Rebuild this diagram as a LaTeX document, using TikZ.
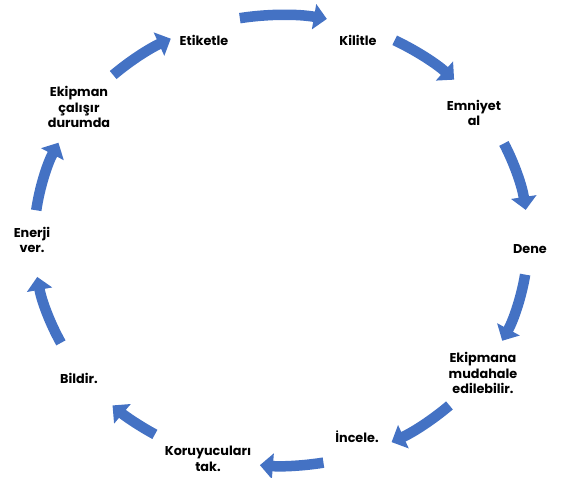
\documentclass[tikz,border=0pt]{standalone}
\usepackage{fontspec}
\setmainfont{Poppins}
\usetikzlibrary{arrows.meta,calc}
\definecolor{arrblue}{HTML}{4472C4}
\tikzset{
  lbl/.style={align=center, font=\fontsize{12.8}{15.5}\selectfont\bfseries, text=black, inner sep=1pt},
  cyc/.style={draw=arrblue, line width=10.5pt, line cap=butt, -{Triangle[width=25pt,length=13pt]}}
}
\newcommand{\cycarrow}[3]{%
  \coordinate (s#3) at ($(ctr)+(#1:247pt and 225.5pt)$);
  \draw[cyc] (s#3) arc[start angle=#1, end angle=#2, x radius=247pt, y radius=225.5pt];}
\begin{document}
\begin{tikzpicture}[x=1pt,y=1pt]
\useasboundingbox (0,0) rectangle (565,477);
\coordinate (ctr) at (281,236.5);
\node[lbl] (etiketle) at (204,437) {Etiketle};
\node[lbl] (kilitle) at (358,437) {Kilitle};
\node[lbl] (emniyet) at (474,364) {Emniyet\\al};
\node[lbl] (dene) at (530,228) {Dene};
\node[lbl] (ekipmana) at (483,104) {Ekipmana\\mudahale\\edilebilir.};
\node[lbl] (incele) at (357,40) {İncele.};
\node[lbl] (koruyucu) at (208,18) {Koruyucuları\\tak.};
\node[lbl] (bildir) at (79,99) {Bildir.};
\node[lbl] (enerji) at (32,237) {Enerji\\ver.};
\node[lbl] (calisir) at (79,370) {Ekipman\\çalışır\\durumda};
\cycarrow{99.6}{79.3}{1}
\cycarrow{62.6}{45.5}{2}
\cycarrow{25.5}{7.8}{3}
\cycarrow{-8.7}{-26.4}{4}
\cycarrow{-47}{-63.4}{5}
\cycarrow{-80.1}{-94.9}{6}
\cycarrow{-120.7}{-133}{7}
\cycarrow{-153}{-170.7}{8}
\cycarrow{172.3}{154.3}{9}
\cycarrow{132.8}{116.5}{10}
\end{tikzpicture}
\end{document}
